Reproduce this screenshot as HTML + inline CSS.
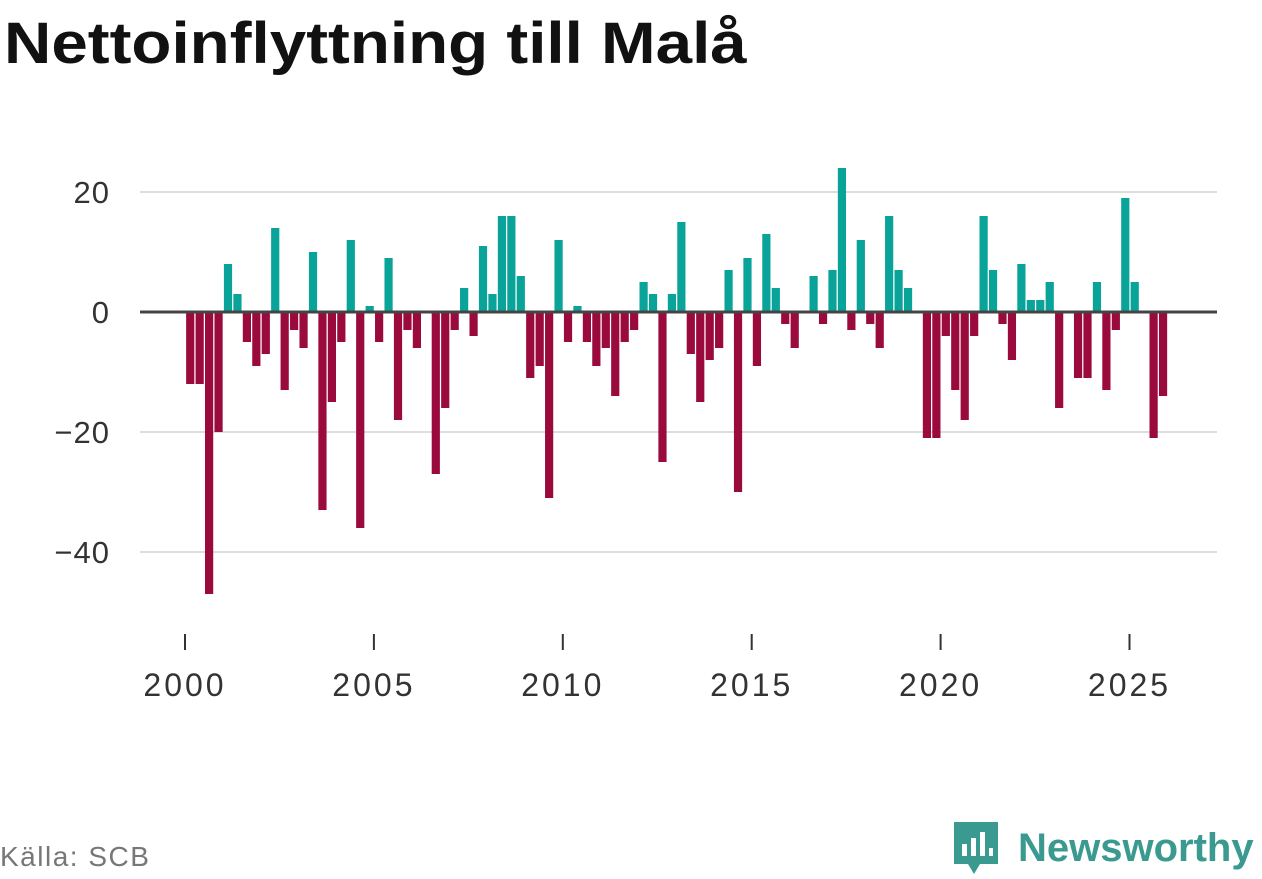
<!DOCTYPE html>
<html><head><meta charset="utf-8">
<style>
body{margin:0;width:1262px;height:879px;background:#fff;font-family:"Liberation Sans","DejaVu Sans",sans-serif;overflow:hidden;position:relative}
#title{position:absolute;left:4px;top:10px;font-size:58px;font-weight:bold;color:#111;transform:scaleX(1.13);transform-origin:0 0;white-space:nowrap}
#src{position:absolute;left:0;top:841px;font-size:28px;color:#777;letter-spacing:1.5px}
#logo{position:absolute;left:950px;top:818px;display:flex;align-items:center}
#logo span{font-size:40px;font-weight:bold;color:#3a9a8f;margin-left:16px}
</style></head><body>
<div id="title">Nettoinflyttning till Malå</div>
<svg id="chart" width="1262" height="879" style="position:absolute;left:0;top:0"></svg>
<div id="src">Källa: SCB</div>
<div id="logo">
<svg width="52" height="60"><path d="M4 4h44v42H30l-6 10-6-10H4z" fill="#3a9a8f"/><rect x="12" y="26" width="5" height="12" fill="#fff"/><rect x="21" y="20" width="5" height="18" fill="#fff"/><rect x="30" y="14" width="5" height="24" fill="#fff"/><rect x="39" y="30" width="4" height="8" fill="#fff"/></svg>
<span>Newsworthy</span></div>
<script>
const years=[2000,2001,2002,2003,2004,2005,2006,2007,2008,2009,2010,2011,2012,2013,2014,2015,2016,2017,2018,2019,2020,2021,2022,2023,2024,2025];
const values=[-12,-12,-47,-20, 8,3,-5,-9, -7,14,-13,-3, -6,10,-33,-15, -5,12,-36,1, -5,9,-18,-3, -6,0,-27,-16, -3,4,-4,11, 3,16,16,6, -11,-9,-31,12, -5,1,-5,-9, -6,-14,-5,-3, 5,3,-25,3, 15,-7,-15,-8, -6,7,-30,9, -9,13,4,-2, -6,0,6,-2, 7,24,-3,12, -2,-6,16,7, 4,0,-21,-21, -4,-13,-18,-4, 16,7,-2,-8, 8,2,2,5, -16,0,-11,-11, 5,-13,-3,19, 5,0,-21,-14];
const yTicks=[20,0,-20,-40];
const xTicks=[2000,2005,2010,2015,2020,2025];
const svg=document.getElementById('chart');const NS='http://www.w3.org/2000/svg';
const X=t=>185+(t-2000)*37.78;const Y=v=>312-v*6;
function mk(tag,a){const e=document.createElementNS(NS,tag);for(const k in a)e.setAttribute(k,a[k]);svg.appendChild(e);return e;}
yTicks.forEach(v=>{
 const l=mk('line',{x1:140,x2:1217,y1:Y(v),y2:Y(v),stroke:v===0?'#444':'#ddd','stroke-width':v===0?3:2});
 
 
 const t=mk('text',{x:110,y:Y(v)+11,'text-anchor':'end','font-size':31,fill:'#333','letter-spacing':1});
 t.textContent=(v<0?'\u2212'+(-v):v);
 
 
});
values.forEach((v,i)=>{
 const t=years[0]+(i+0.5)/4;
 if(v===0)return;
 const r=mk('rect',{x:X(t)-3.6,width:8.2,y:Math.min(Y(v),Y(0)),height:Math.abs(Y(v)-Y(0)),fill:v>0?'#0aa39a':'#9b0a3c'});
 
 
});
const z=mk('line',{x1:140,x2:1217,y1:Y(0),y2:Y(0),stroke:'#444','stroke-width':3});


xTicks.forEach(y=>{
 const l=mk('line',{x1:X(y),x2:X(y),y1:634,y2:650,stroke:'#333','stroke-width':2});
 
 
 const t=mk('text',{x:X(y),y:696,'text-anchor':'middle','font-size':32,fill:'#333','letter-spacing':3});
 t.textContent=y;
 
 
});
</script>
</body></html>
